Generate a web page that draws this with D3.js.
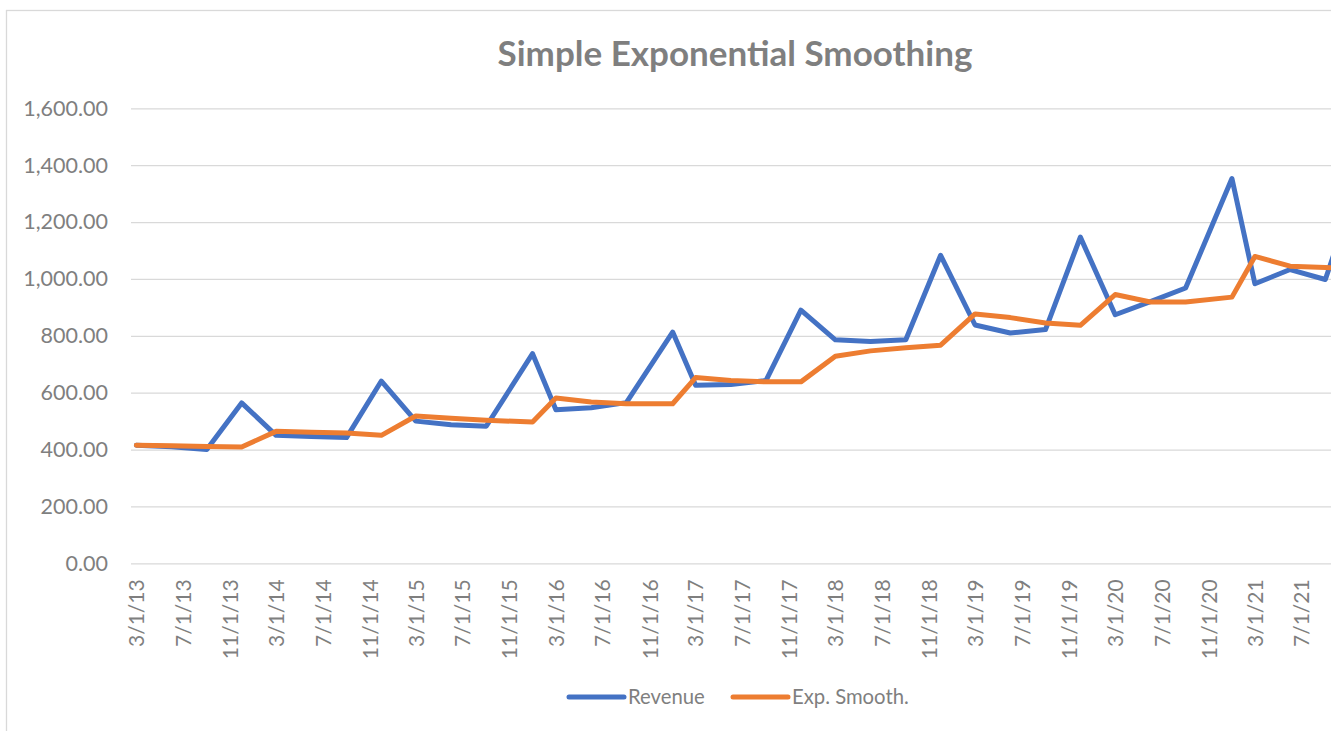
<!DOCTYPE html>
<html>
<head>
<meta charset="utf-8">
<script src="https://cdn.jsdelivr.net/npm/d3@7"></script>
<style>
  html, body { margin: 0; padding: 0; background: #fff; }
  svg { display: block; font-family: Lato, "Open Sans", sans-serif; }
</style>
</head>
<body>
<svg id="chart" width="1331" height="731"></svg>
<script>
// ---- data ----
const dates = [
  "2013-03-01","2013-06-01","2013-09-01","2013-12-01",
  "2014-03-01","2014-06-01","2014-09-01","2014-12-01",
  "2015-03-01","2015-06-01","2015-09-01","2015-12-31",
  "2016-03-01","2016-06-01","2016-09-01","2016-12-31",
  "2017-03-01","2017-06-01","2017-09-01","2017-12-01",
  "2018-03-01","2018-06-01","2018-09-01","2018-12-01",
  "2019-03-01","2019-06-01","2019-09-01","2019-12-01",
  "2020-03-01","2020-06-01","2020-09-01","2020-12-31",
  "2021-03-01","2021-06-01","2021-09-01","2021-12-01"
];
const revenue = [
  415, 410, 400, 564,
  450, 446, 442, 641,
  500, 487, 482, 737,
  540, 547, 565, 813,
  626, 629, 643, 890,
  786, 780, 786, 1083,
  838, 810, 822, 1147,
  874, 920, 968, 1353,
  983, 1033, 998, 1360
];
const expSmooth = [
  415, 413, 411, 409,
  464, 461, 458, 450,
  518, 510, 503, 497,
  581, 567, 561, 561,
  653, 643, 638, 638,
  728, 747, 758, 767,
  877, 864, 845, 837,
  945, 919, 919, 936,
  1079, 1045, 1040, 1035
];
const seriesNames = ["Revenue", "Exp. Smooth."];
const seriesColors = ["#4472C4", "#ED7D31"];
const yTicks = [0, 200, 400, 600, 800, 1000, 1200, 1400, 1600];
const titleText = "Simple Exponential Smoothing";

// ---- layout ----
const svg = d3.select("#chart");
const W = 1331, H = 731;
const plotLeft = 131, plotTop = 108.3, plotBottom = 563.3;
const pxPerDay = 0.3828;
const parse = d3.timeParse("%Y-%m-%d");
const xStart = parse("2013-02-15"), xEnd = parse("2022-03-15");
const plotRight = plotLeft + (xEnd - xStart) / 864e5 * pxPerDay;

svg.append("rect").attr("width", W).attr("height", H).attr("fill", "#fff");
// chart frame (extends beyond the photographed area)
svg.append("rect")
  .attr("x", 6.5).attr("y", 10.5)
  .attr("width", 1460).attr("height", 760)
  .attr("fill", "none").attr("stroke", "#d9d9d9").attr("stroke-width", 1.3);

const x = d3.scaleTime().domain([xStart, xEnd]).range([plotLeft, plotRight]);
const y = d3.scaleLinear().domain([0, 1600]).range([plotBottom, plotTop]);

// title
svg.append("text")
  .attr("x", 735).attr("y", 66)
  .attr("text-anchor", "middle")
  .attr("font-weight", "bold")
  .attr("font-size", 35)
  .attr("fill", "#7f7f7f")
  .text(titleText);

// gridlines + y labels via axis
const yAxis = d3.axisLeft(y).tickValues(yTicks).tickFormat(d3.format(",.2f"))
  .tickSize(-(plotRight - plotLeft)).tickPadding(23);
const gy = svg.append("g").attr("transform", `translate(${plotLeft},0)`).call(yAxis);
gy.select(".domain").remove();
gy.selectAll(".tick line").attr("stroke", "#d9d9d9").attr("stroke-width", 1.3);
gy.selectAll(".tick text").attr("fill", "#7f7f7f").attr("font-size", 21.5)
  .attr("font-family", "Lato, sans-serif");

// x labels (every 4 months; the 11/1/21 label falls outside the photographed area)
const xTicks = d3.timeMonth.range(parse("2013-03-01"), parse("2021-10-01"), 4);
const xAxis = d3.axisBottom(x).tickValues(xTicks).tickFormat(d3.timeFormat("%-m/%-d/%y"))
  .tickSize(0).tickPadding(0);
const gx = svg.append("g").attr("transform", `translate(0,${plotBottom})`).call(xAxis);
gx.select(".domain").remove();
gx.selectAll(".tick text")
  .attr("fill", "#7f7f7f").attr("font-size", 21).attr("font-family", "Lato, sans-serif")
  .attr("text-anchor", "end")
  .attr("transform", "translate(0,16) rotate(-90)")
  .attr("x", 0).attr("y", 0).attr("dy", "0.35em");

// lines
const parsedDates = dates.map(parse);
const allSeries = [revenue, expSmooth];
const line = d3.line().x((d, i) => x(parsedDates[i])).y(d => y(d));
allSeries.forEach((vals, k) => {
  svg.append("path")
    .datum(vals)
    .attr("d", line)
    .attr("fill", "none")
    .attr("stroke", seriesColors[k])
    .attr("stroke-width", 5)
    .attr("stroke-linejoin", "round")
    .attr("stroke-linecap", "round");
});

// legend
const legendX = [569, 733];
const lg = svg.append("g");
seriesNames.forEach((name, k) => {
  lg.append("line")
    .attr("x1", legendX[k]).attr("x2", legendX[k] + 55)
    .attr("y1", 697).attr("y2", 697)
    .attr("stroke", seriesColors[k]).attr("stroke-width", 5)
    .attr("stroke-linecap", "round");
  lg.append("text")
    .attr("x", legendX[k] + 59).attr("y", 697).attr("dy", "0.35em")
    .attr("fill", "#7f7f7f").attr("font-size", 20.3)
    .text(name);
});
</script>
</body>
</html>
